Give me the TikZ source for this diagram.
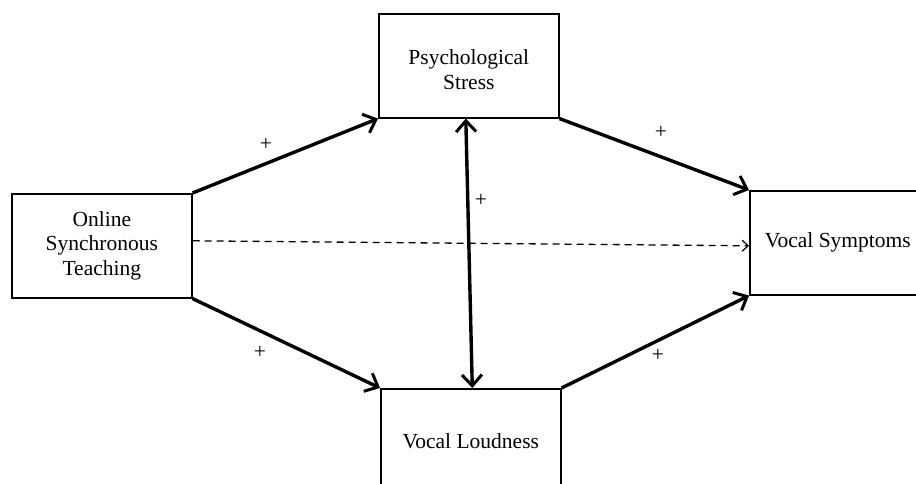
\documentclass[tikz,border=0pt]{standalone}
\usepackage{fontspec}
\setmainfont{Liberation Serif}
\usetikzlibrary{arrows.meta}
\begin{document}
\begin{tikzpicture}[x=1pt,y=-1pt,
  box/.style={draw,line width=1.6pt,minimum width=180pt,minimum height=104pt,inner sep=0pt,align=center,
    font=\fontsize{21.5}{24.5}\selectfont,anchor=north west},
  path/.style={line width=3.4pt,-{Straight Barb[length=11pt,width=20pt,line width=3pt]}},
  both/.style={line width=3.4pt,{Straight Barb[length=11pt,width=20pt,line width=3pt]}-{Straight Barb[length=11pt,width=20pt,line width=3pt]}},
  dsh/.style={line width=1.3pt,dash pattern=on 7pt off 5pt,-{Straight Barb[length=6pt,width=11pt,line width=1.2pt]}},
  plus/.style={font=\fontsize{21.5}{24}\selectfont}]
\useasboundingbox (0,0) rectangle (916,484);
\clip (0,0) rectangle (916,484);
\node[box] (L) at (11,193) {Online\\Synchronous\\Teaching};
\node[box] (P) at (378,13) {\rule{0pt}{23pt}Psychological\\Stress};
\node[box] (V) at (380,388) {Vocal Loudness};
\node[box] (R) at (749,190) {\hspace*{-2pt}Vocal Symptoms\hspace*{2pt}};
\draw[path] (L.north east) -- (P.south west);
\draw[path] (L.south east) -- (V.north west);
\draw[path] (P.south east) -- (R.north west);
\draw[path] (V.north east) -- (R.south west);
\draw[dsh] ([yshift=5pt]L.east) -- ([yshift=-3pt]R.west);
\draw[both] ([xshift=-3pt]P.south) -- ([xshift=1.5pt]V.north);
\node[plus] (p1) at (266,144) {+};
\node[plus] (p2) at (260,352) {+};
\node[plus] (p3) at (481,200) {+};
\node[plus] (p4) at (661,132) {+};
\node[plus] (p5) at (658,355) {+};
\end{tikzpicture}
\end{document}
